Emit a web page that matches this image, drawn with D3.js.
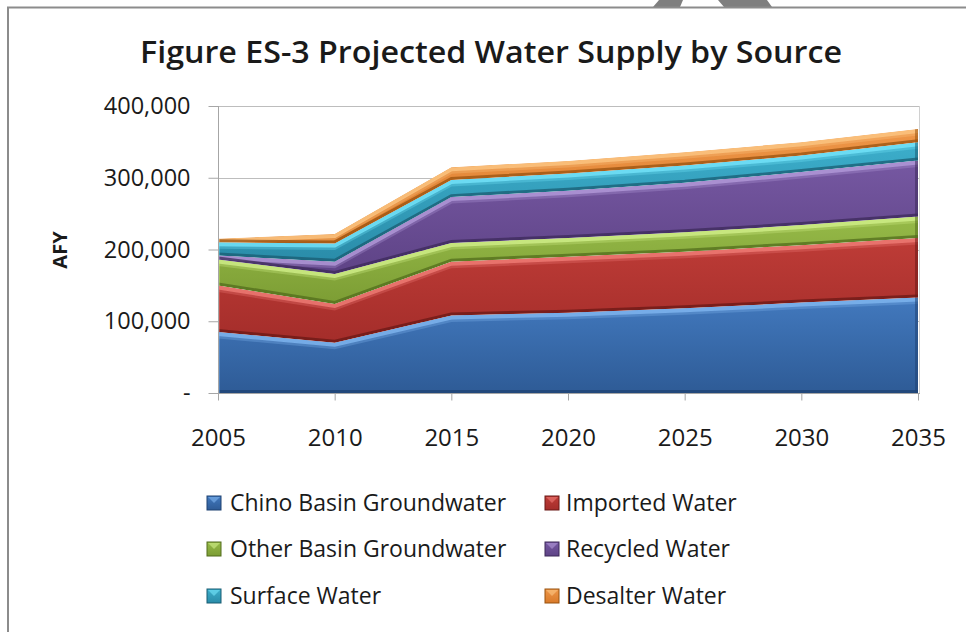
<!DOCTYPE html>
<html>
<head>
<meta charset="utf-8">
<script src="https://cdn.jsdelivr.net/npm/d3@7"></script>
<style>
  html, body { margin: 0; padding: 0; background: #fff; }
  svg { display: block; }
  text { font-family: "Open Sans", "Noto Sans", sans-serif; fill: #1a1a1a; }
</style>
</head>
<body>
<svg id="chart" width="966" height="632"></svg>
<script>
// ---------- data ----------
const years = [2005, 2010, 2015, 2020, 2025, 2030, 2035];
const chinoBasin   = [85000, 70000, 108000, 112000, 118000, 126000, 133000];
const importedWater = [65000, 54000, 75000, 78000, 79000, 80000, 83000];
const otherBasin   = [36000, 42000, 26000, 26000, 27000, 28000, 30000];
const recycledWater = [5500, 17000, 64000, 66000, 69000, 74000, 78000];
const surfaceWater = [18500, 25500, 24000, 24000, 24000, 23000, 25500];
const desalterWater = [5000, 13000, 17500, 17500, 18500, 18500, 18500];
const seriesNames = ["Chino Basin Groundwater", "Imported Water", "Other Basin Groundwater",
                     "Recycled Water", "Surface Water", "Desalter Water"];
const yTicks = [0, 100000, 200000, 300000, 400000];
const yTickLabels = ["-", "100,000", "200,000", "300,000", "400,000"];
const titleText = "Figure ES-3 Projected Water Supply by Source";
const yAxisTitle = "AFY";

// ---------- styles ----------
const palette = [
  { top: "#4279BE", bot: "#2E5B96", hl: "#80B6F0", sh: "#1F4272" },
  { top: "#BE3C37", bot: "#A42D2A", hl: "#F07C76", sh: "#6A1816" },
  { top: "#96BA48", bot: "#7C9D34", hl: "#D0EE88", sh: "#526C1C" },
  { top: "#7658A2", bot: "#5E4386", hl: "#B39AD9", sh: "#3C2959" },
  { top: "#3CAECB", bot: "#2A8CA9", hl: "#74E4FA", sh: "#195C72" },
  { top: "#EE9648", bot: "#D97A2A", hl: "#FCC683", sh: "#98520F" }
];

const svg = d3.select("#chart");
const W = 966, H = 632;
const plot = { left: 218, right: 918, top: 106, bottom: 393 };

const x = d3.scaleLinear().domain([years[0], years[years.length - 1]]).range([plot.left, plot.right]);
const y = d3.scaleLinear().domain([0, 400000]).range([plot.bottom, plot.top]);

// ---------- background decorations ----------
svg.append("rect").attr("width", W).attr("height", H).attr("fill", "#fff");
// grey shape peeking over top border
svg.append("polygon").attr("points", "659,0 683,0 680,7 653,7").attr("fill", "#7f7f7f");
svg.append("polygon").attr("points", "718,0 767,0 772,7 724,7").attr("fill", "#7f7f7f");
// chart frame
svg.append("path").attr("d", `M8,${H + 2} L8,7.5 L${W + 2},7.5`)
  .attr("fill", "none").attr("stroke", "#8c8c8c").attr("stroke-width", 2);

// ---------- gridlines ----------
svg.append("g").selectAll("line").data(yTicks.slice(1)).join("line")
  .attr("x1", plot.left).attr("x2", plot.right + 2)
  .attr("y1", d => Math.round(y(d)) + 0.5).attr("y2", d => Math.round(y(d)) + 0.5)
  .attr("stroke", "#bdbdbd").attr("stroke-width", 1);
svg.append("line").attr("x1", plot.right + 1.5).attr("x2", plot.right + 1.5)
  .attr("y1", plot.top).attr("y2", plot.bottom)
  .attr("stroke", "#d0d0d0");

// ---------- stacked areas ----------
const seriesData = [chinoBasin, importedWater, otherBasin, recycledWater, surfaceWater, desalterWater];
const table = years.map((yr, i) => {
  const row = { year: yr };
  seriesNames.forEach((n, k) => row[n] = seriesData[k][i]);
  return row;
});
const stack = d3.stack().keys(seriesNames);
const layers = stack(table);

const defs = svg.append("defs");
palette.forEach((p, k) => {
  const g = defs.append("linearGradient").attr("id", "grad" + k)
    .attr("x1", 0).attr("y1", 0).attr("x2", 0).attr("y2", 1);
  g.append("stop").attr("offset", "0%").attr("stop-color", p.top);
  g.append("stop").attr("offset", "100%").attr("stop-color", p.bot);
});

const area = d3.area().x(d => x(d.data.year)).y0(d => y(d[0])).y1(d => y(d[1]));
const topLine = d3.line().x(d => x(d.data.year)).y(d => y(d[1]));
const botLine = d3.line().x(d => x(d.data.year)).y(d => y(d[0]));

const gArea = svg.append("g");
layers.forEach((layer, k) => {
  const p = palette[k];
  defs.append("clipPath").attr("id", "clip" + k).append("path").attr("d", area(layer));
  const g = gArea.append("g").attr("clip-path", `url(#clip${k})`);
  g.append("path").attr("d", area(layer)).attr("fill", `url(#grad${k})`);
  // top highlight bevel
  g.append("path").attr("d", topLine(layer)).attr("transform", "translate(0,2)")
    .attr("fill", "none").attr("stroke", p.hl).attr("stroke-width", 4).attr("opacity", 0.85);
  g.append("path").attr("d", topLine(layer)).attr("transform", "translate(0,5)")
    .attr("fill", "none").attr("stroke", p.hl).attr("stroke-width", 3).attr("opacity", 0.3);
  // bottom shadow bevel
  g.append("path").attr("d", botLine(layer)).attr("transform", "translate(0,-1.5)")
    .attr("fill", "none").attr("stroke", p.sh).attr("stroke-width", 3).attr("opacity", 0.75);
  // right edge shading
  g.append("rect").attr("x", plot.right - 3).attr("y", plot.top - 20)
    .attr("width", 3).attr("height", plot.bottom - plot.top + 40)
    .attr("fill", p.sh).attr("opacity", 0.55);
  g.append("rect").attr("x", plot.left).attr("y", plot.top - 20)
    .attr("width", 2).attr("height", plot.bottom - plot.top + 40)
    .attr("fill", p.hl).attr("opacity", 0.4);
});

// ---------- axes ----------
const yAxis = d3.axisLeft(y).tickValues(yTicks)
  .tickFormat((d, i) => yTickLabels[i]).tickSize(10).tickPadding(18);
const gy = svg.append("g").attr("transform", `translate(${plot.left + 0.5},0)`).call(yAxis);
gy.select(".domain").attr("stroke", "#a6a6a6").attr("d", `M0,${plot.bottom + 7}V${plot.top}`);
gy.selectAll(".tick line").attr("stroke", "#a6a6a6");
gy.selectAll(".tick text").style("font-size", "23.5px").style("font-family", "'Open Sans', sans-serif")
  .attr("fill", "#1a1a1a");

const xAxis = d3.axisBottom(x).tickValues(years).tickFormat(d3.format("d")).tickSize(7).tickPadding(28);
const gx = svg.append("g").attr("transform", `translate(0,${plot.bottom + 0.5})`).call(xAxis);
gx.select(".domain").attr("stroke", "#a6a6a6").attr("d", `M${plot.left},0H${plot.right + 2}`);
gx.selectAll(".tick line").attr("stroke", "#a6a6a6");
gx.selectAll(".tick text").style("font-size", "24px").style("font-family", "'Open Sans', sans-serif")
  .attr("fill", "#1a1a1a");

// ---------- titles ----------
svg.append("text").attr("x", 491).attr("y", 63).attr("text-anchor", "middle")
  .attr("textLength", 702).attr("lengthAdjust", "spacingAndGlyphs")
  .style("font-size", "31px").style("font-weight", "600").text(titleText);

svg.append("text").attr("transform", "translate(67,250) rotate(-90)")
  .attr("text-anchor", "middle")
  .style("font-size", "20px").style("font-weight", "700").text(yAxisTitle);

// ---------- legend ----------
const legendPos = [
  { mx: 207, tx: 230, cy: 503 }, { mx: 545, tx: 566, cy: 503 },
  { mx: 207, tx: 230, cy: 549 }, { mx: 545, tx: 566, cy: 549 },
  { mx: 207, tx: 230, cy: 596 }, { mx: 545, tx: 566, cy: 596 }
];
const gl = svg.append("g");
seriesNames.forEach((name, k) => {
  const lp = legendPos[k], p = palette[k];
  gl.append("rect").attr("x", lp.mx).attr("y", lp.cy - 7).attr("width", 14).attr("height", 14)
    .attr("fill", `url(#grad${k})`).attr("stroke", p.sh).attr("stroke-width", 1);
  gl.append("path").attr("d", `M${lp.mx + 1},${lp.cy - 6}L${lp.mx + 7},${lp.cy}L${lp.mx + 13},${lp.cy - 6}Z`)
    .attr("fill", p.hl).attr("opacity", 0.6);
  gl.append("text").attr("x", lp.tx).attr("y", lp.cy).attr("dy", "0.35em")
    .style("font-size", "23px").text(name);
});
</script>
</body>
</html>
